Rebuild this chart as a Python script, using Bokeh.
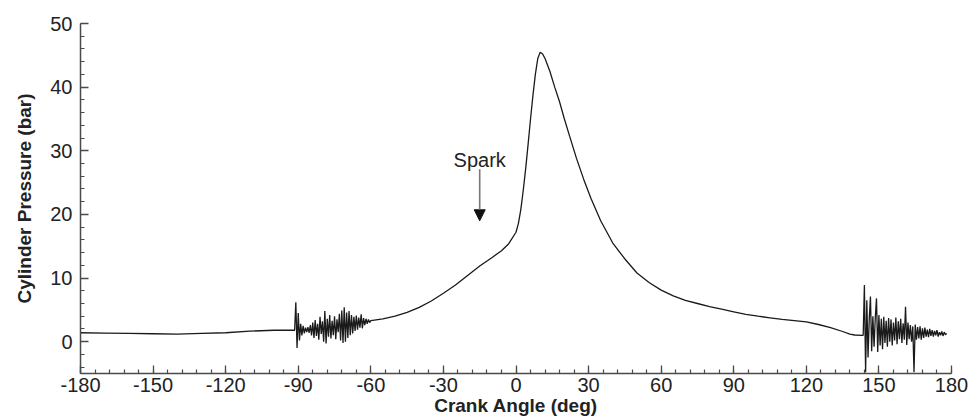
from bokeh.plotting import figure
from bokeh.models import FixedTicker, Arrow, NormalHead, Range1d
from bokeh.core.properties import value
from bokeh.embed import file_html
from bokeh.resources import INLINE

# Cylinder pressure trace (crank angle in deg, pressure in bar), split by phase
intake_deg = [-180, -170, -160, -150, -140, -130, -120, -110, -100, -92]
intake_bar = [1.4, 1.35, 1.3, 1.25, 1.2, 1.3, 1.4, 1.65, 1.8, 1.8]

# valve-closing ringing during early compression
ring_deg = [-91.5 + 0.5 * i for i in range(63)]
ring_bar = [1.8, 6.2, -1.0, 4.5, 0.2, 2.8, 1.0, 2.5, 1.3, 2.2,
            1.5, 2.3, 1.4, 2.6, 1.0, 3.0, 0.6, 3.4, 0.9, 2.8,
            0.3, 3.9, 1.2, 3.2, 0.0, 4.8, -0.3, 3.6, 0.8, 4.2,
            0.5, 3.3, 1.0, 4.0, 0.4, 3.5, 1.5, 4.4, 0.2, 4.9,
            -0.2, 5.4, 0.0, 4.6, 0.6, 4.8, 1.0, 4.2, 1.3, 3.9,
            1.7, 4.1, 1.9, 3.8, 2.2, 4.3, 2.1, 3.7, 2.6, 3.6,
            2.8, 3.5, 3.0]

# compression, combustion and expansion
main_deg = [-60, -55, -50, -45, -40, -35, -30, -25, -20, -15, -10, -6, -3, 0,
            1, 2, 3, 4, 5, 6, 7, 8, 9, 10, 11, 12, 14, 16, 18, 20, 22, 25, 28, 31,
            35, 40, 45, 50, 55, 60, 65, 70, 75, 80, 85, 90, 95, 100, 105,
            110, 115, 120, 125, 130, 135, 138, 140, 143]
main_bar = [3.3, 3.6, 4.0, 4.6, 5.4, 6.4, 7.6, 8.9, 10.4, 11.9, 13.2, 14.3, 15.4, 17.2,
            18.6, 20.8, 23.8, 27.2, 31.0, 35.0, 38.7, 42.0, 44.5, 45.5, 45.2, 44.5, 42.5, 40.0, 37.7, 35.0, 32.5, 28.8, 25.5, 22.5,
            19.0, 15.5, 13.0, 10.8, 9.3, 8.1, 7.2, 6.5, 6.0, 5.5, 5.1, 4.7, 4.3, 4.0, 3.75,
            3.5, 3.3, 3.1, 2.7, 2.2, 1.6, 1.2, 1.05, 1.0]

# exhaust valve opening oscillations
exhaust_deg = [143.5 + 0.5 * i for i in range(70)]
exhaust_bar = [1.0, 8.9, -4.8, 6.5, -2.5, 3.5, 7.1, -1.5, 4.0, -0.8,
               3.8, 6.8, -1.6, 4.2, -0.6, 3.6, -1.2, 3.9, -0.2, 3.3,
               -0.8, 3.7, 0.0, 3.5, -0.6, 3.0, 0.2, 3.8, -0.4, 3.2,
               0.4, 3.6, -0.2, 2.9, 0.3, 5.5, -0.5, 3.0, 0.4, 2.6,
               0.0, 2.4, -4.8, 2.7, 0.3, 2.3, 0.5, 2.4, 0.3, 2.1,
               0.6, 2.2, 0.8, 1.9, 0.7, 2.0, 0.9, 1.8, 0.8, 1.7,
               1.0, 1.8, 0.8, 1.5, 1.0, 1.6, 0.9, 1.5, 1.1, 1.3]

spark_deg = -15
spark_tail_bar = 27.1
spark_head_bar = 19.0
spark_label_bar = 28.6

x_ticks = list(range(-180, 181, 30))
x_minor = list(range(-180, 181, 6))
y_ticks = list(range(0, 51, 10))
y_minor = list(range(-4, 51, 2))

angle = intake_deg + ring_deg + main_deg + exhaust_deg
pressure = intake_bar + ring_bar + main_bar + exhaust_bar

FONT = "Liberation Sans"
AXIS_COLOR = "#4a4a4a"

p = figure(width=968, height=418, output_backend="svg", toolbar_location=None,
           x_range=Range1d(-180, 180), y_range=Range1d(-5, 50),
           min_border_left=80, min_border_right=17, min_border_top=23, min_border_bottom=44)
p.outline_line_color = None
p.grid.visible = False
p.background_fill_color = "white"
p.border_fill_color = "white"

p.line(angle, pressure, line_color="#1a1a1a", line_width=1.3)

# spark timing marker
p.add_layout(Arrow(end=NormalHead(size=11, fill_color="#111111", line_color="#111111"),
                   x_start=spark_deg, y_start=spark_tail_bar,
                   x_end=spark_deg, y_end=spark_head_bar,
                   line_color="#777777", line_width=1.6))
p.text(x=[spark_deg], y=[spark_label_bar], text=["Spark"], text_align="center",
       text_baseline="alphabetic", text_font=value(FONT), text_font_size="20px",
       text_color="#222222")

for ax in (p.xaxis[0], p.yaxis[0]):
    ax.axis_line_color = AXIS_COLOR
    ax.axis_line_width = 1.5
    ax.major_tick_line_color = AXIS_COLOR
    ax.minor_tick_line_color = AXIS_COLOR
    ax.major_tick_line_width = 1.3
    ax.minor_tick_line_width = 1.2
    ax.major_tick_in = 8
    ax.major_tick_out = 0
    ax.minor_tick_in = 4
    ax.minor_tick_out = 0
    ax.major_label_text_font = FONT
    ax.major_label_text_font_size = "20px"
    ax.major_label_text_color = "#222222"
    ax.axis_label_text_font = FONT
    ax.axis_label_text_font_style = "bold"
    ax.axis_label_text_font_size = "19px"
    ax.axis_label_text_color = "#222222"

p.xaxis.ticker = FixedTicker(ticks=x_ticks, minor_ticks=x_minor)
p.yaxis.ticker = FixedTicker(ticks=y_ticks, minor_ticks=y_minor)
# plain hyphen-minus on negative tick labels
p.xaxis.major_label_overrides = {t: str(t) for t in x_ticks}
p.yaxis.major_label_overrides = {t: str(t) for t in y_ticks}
p.xaxis.axis_label = "Crank Angle (deg)"
p.yaxis.axis_label = "Cylinder Pressure (bar)"
p.xaxis.major_label_standoff = 4
p.xaxis.axis_label_standoff = 0
p.yaxis.major_label_standoff = 8
p.yaxis.axis_label_standoff = 12

open("out.html", "w").write(file_html(p, INLINE))
